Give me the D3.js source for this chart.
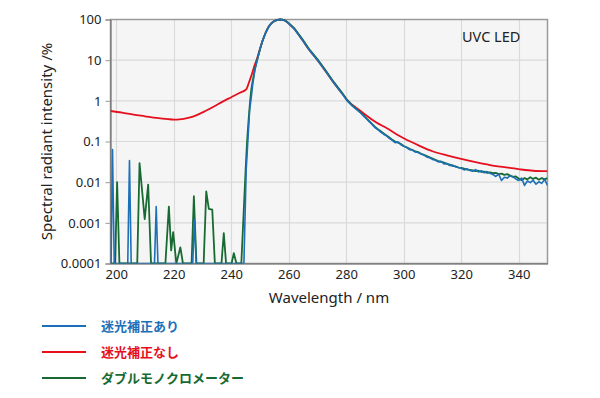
<!DOCTYPE html>
<html lang="ja">
<head>
  <meta charset="UTF-8"/>
  <title>UVC LED spectrum</title>
  <script src="https://d3js.org/d3.v7.min.js"></script>
  <style>
    body { margin: 0; background: #fff; font-family: "Noto Sans", "Open Sans", sans-serif; }
    .tick text { font-size: 13px; fill: #222; }
    .legend text { font-family: "Noto Sans CJK JP", sans-serif; font-size: 13px; font-weight: bold; }
  </style>
</head>
<body>
<svg id="chart" width="600" height="398"></svg>
<script>
// wavelength ticks and decade ticks
const xTicks = [200, 220, 240, 260, 280, 300, 320, 340];
const yTicks = [0.0001, 0.001, 0.01, 0.1, 1, 10, 100];
const yTickLabels = ['0.0001', '0.001', '0.01', '0.1', '1', '10', '100'];

// 迷光補正なし (red) [nm, %]
const redCurve = [
  [198, 0.562], [202, 0.513], [206, 0.457], [210, 0.417], [214, 0.380], [218, 0.355],
  [220, 0.347], [222, 0.351], [225, 0.380], [228, 0.447], [231, 0.562], [234, 0.724],
  [237, 0.955], [240, 1.23], [243, 1.585], [245.3, 1.95], [246, 2.63], [247, 4.17],
  [248, 7.08], [249, 11.2], [250, 19.1], [251, 31.6], [252, 47.9], [253, 66.1],
  [254, 81.3], [255, 91.2], [256, 97.7], [257, 100], [258, 97.7], [259, 91.2],
  [260, 79.4], [262, 57.5], [264.6, 32.4], [267, 18.2], [270, 10.0], [272.8, 5.37],
  [275.7, 2.75], [278.6, 1.51], [280.3, 1.05], [284.4, 0.603], [290.2, 0.302],
  [294, 0.214], [300, 0.120], [305, 0.0813], [310, 0.0575], [315, 0.0457],
  [320, 0.0372], [325, 0.0309], [330, 0.0263], [335, 0.0234], [340, 0.0209],
  [345, 0.0191], [350, 0.0186]
];

// 迷光補正あり (blue): stray-light region + peak, then 285..350 nm every 1 nm
const blueHead = [
  [198.2, 0.0001], [198.7, 0.063], [199.3, 0.0001], [204.0, 0.0001], [204.6, 0.034],
  [205.2, 0.0001], [213.3, 0.0001], [213.9, 0.0025], [214.5, 0.0001], [226.6, 0.0001],
  [227.2, 0.0012], [227.8, 0.0001], [244.4, 0.0001], [245.2, 0.0204], [245.6, 0.0631],
  [246.0, 0.195], [246.4, 0.603], [246.9, 1.12], [247.5, 2.63], [248.2, 5.62],
  [249, 10.0], [250, 18.6], [251, 31.6], [252, 47.9], [253, 66.1], [254, 81.3],
  [255, 91.2], [256, 97.7], [257, 100], [258, 97.7], [259, 91.2], [260, 79.4],
  [262, 57.5], [264.6, 32.4], [267, 18.2], [270, 10.0], [272.8, 5.37], [275.7, 2.75],
  [278.6, 1.48], [280.3, 1.0], [282, 0.76], [284.4, 0.55]
];
const blueTail = [
  0.501, 0.427, 0.363, 0.309, 0.263, 0.219, 0.195, 0.170, 0.151, 0.138,
  0.120, 0.107, 0.0933, 0.0977, 0.0832, 0.0759, 0.0708, 0.0631, 0.0617, 0.0550,
  0.0537, 0.0490, 0.0468, 0.0417, 0.0398, 0.0363, 0.0347, 0.0316, 0.0324, 0.0282,
  0.0288, 0.0257, 0.0263, 0.0240, 0.0229, 0.0219, 0.0200, 0.0214, 0.0195, 0.0186,
  0.0204, 0.0178, 0.0191, 0.0170, 0.0182, 0.0166, 0.0155, 0.0138, 0.0158, 0.0110,
  0.0132, 0.0126, 0.0145, 0.0135, 0.0120, 0.0110, 0.0126, 0.00832, 0.0107, 0.00977,
  0.0112, 0.00891, 0.0102, 0.00933, 0.0117, 0.00832
];

// ダブルモノクロメーター (green)
const greenHead = [
  [198.2, 0.0001], [199.6, 0.0001], [200.3, 0.01], [201.1, 0.0001], [207.3, 0.0001],
  [208.1, 0.0295], [209.9, 0.00123], [211.1, 0.0087], [212.1, 0.0001], [217.1, 0.0001],
  [218.3, 0.0025], [219.1, 0.00021], [219.8, 0.00059], [220.9, 0.0001], [222.3, 0.00025],
  [223.2, 0.0001], [226.2, 0.0001], [227.0, 0.0045], [227.9, 0.0001], [230.4, 0.0001],
  [231.3, 0.0059], [232.2, 0.0022], [233.4, 0.0021], [234.3, 0.0001], [236.6, 0.0001],
  [237.4, 0.00056], [238.2, 0.0001], [240.1, 0.0001], [240.9, 0.00018], [241.8, 0.0001],
  [243.5, 0.0001], [245.0, 0.0204], [245.5, 0.1], [246.0, 0.316], [246.5, 0.891],
  [247, 2.0], [247.5, 3.16], [248.2, 6.03], [249, 10.0], [250, 18.6], [251, 31.6],
  [252, 47.9], [253, 66.1], [254, 81.3], [255, 91.2], [256, 97.7], [257, 100],
  [258, 98.5], [259, 92.5], [260, 81.3], [262, 60.3], [264.6, 33.9], [267, 19.1],
  [270, 10.5], [272.8, 5.62], [275.7, 2.88], [278.6, 1.55], [280.3, 1.05], [282, 0.78],
  [284.4, 0.56]
];
const greenTail = [
  0.513, 0.437, 0.372, 0.316, 0.269, 0.229, 0.200, 0.178, 0.158, 0.141,
  0.126, 0.110, 0.100, 0.0933, 0.0871, 0.0776, 0.0724, 0.0661, 0.0617, 0.0575,
  0.0550, 0.0501, 0.0468, 0.0437, 0.0407, 0.0380, 0.0355, 0.0331, 0.0316, 0.0302,
  0.0282, 0.0269, 0.0251, 0.0245, 0.0229, 0.0224, 0.0214, 0.0204, 0.0200, 0.0195,
  0.0186, 0.0191, 0.0178, 0.0182, 0.0170, 0.0174, 0.0166, 0.0170, 0.0158, 0.0162,
  0.0151, 0.0158, 0.0145, 0.0135, 0.0138, 0.0123, 0.0112, 0.0126, 0.0117, 0.0132,
  0.0120, 0.0129, 0.0115, 0.0126, 0.0117, 0.0126
];
const tailNm = d3.range(285, 351);

const legendLabels = ['迷光補正あり', '迷光補正なし', 'ダブルモノクロメーター'];
const colors = ['#1d6fb8', '#e60f1e', '#176a31'];

const blue = blueHead.concat(tailNm.map((w, i) => [w, blueTail[i]]));
const green = greenHead.concat(tailNm.map((w, i) => [w, greenTail[i]]));

const svg = d3.select('#chart');
const plotL = 110.5, plotR = 547.5, plotT = 19.5, plotB = 263.5;

const x = d3.scaleLinear().domain([198, 350]).range([plotL, plotR]);
const y = d3.scaleLog().domain([0.0001, 100]).range([plotB, plotT]);

// plot background
svg.append('rect').attr('x', plotL).attr('y', plotT)
  .attr('width', plotR - plotL).attr('height', plotB - plotT).attr('fill', '#f5f5f5');

// grid
svg.append('g').selectAll('line').data(xTicks).join('line')
  .attr('x1', d => Math.round(x(d)) + 0.5).attr('x2', d => Math.round(x(d)) + 0.5)
  .attr('y1', plotT).attr('y2', plotB).attr('stroke', '#dadada').attr('stroke-width', 1.2);
svg.append('g').selectAll('line').data(yTicks).join('line')
  .attr('x1', plotL).attr('x2', plotR)
  .attr('y1', d => y(d)).attr('y2', d => y(d)).attr('stroke', '#dadada').attr('stroke-width', 1.2);

// frame
svg.append('rect').attr('x', plotL).attr('y', plotT)
  .attr('width', plotR - plotL).attr('height', plotB - plotT)
  .attr('fill', 'none').attr('stroke', '#9a9a9a').attr('stroke-width', 1.5);

// axes
const yAxis = d3.axisLeft(y).tickValues(yTicks)
  .tickFormat((d, i) => yTickLabels[i]).tickSize(5).tickPadding(4);
svg.append('g').attr('transform', `translate(${plotL},0)`).call(yAxis)
  .call(g => g.select('.domain').attr('stroke', '#666'))
  .call(g => g.selectAll('.tick line').attr('stroke', '#999'));

const xAxis = d3.axisBottom(x).tickValues(xTicks).tickSize(0).tickPadding(6);
svg.append('g').attr('transform', `translate(0,${plotB})`).call(xAxis)
  .call(g => g.select('.domain').attr('stroke', '#666'));

svg.selectAll('.tick text').attr('font-family', '"Noto Sans", sans-serif');

// curves
svg.append('clipPath').attr('id', 'clip').append('rect')
  .attr('x', plotL).attr('y', plotT - 2).attr('width', plotR - plotL).attr('height', plotB - plotT + 2);

const line = d3.line()
  .x(d => x(d[0]))
  .y(d => y(Math.max(d[1], 0.0001)));
const smooth = d3.line()
  .x(d => x(d[0]))
  .y(d => y(d[1]))
  .curve(d3.curveMonotoneX);

const plot = svg.append('g').attr('clip-path', 'url(#clip)');
plot.append('path').datum(redCurve).attr('d', smooth)
  .attr('fill', 'none').attr('stroke', colors[1]).attr('stroke-width', 1.8);
plot.append('path').datum(green).attr('d', line)
  .attr('fill', 'none').attr('stroke', colors[2]).attr('stroke-width', 1.8).attr('stroke-linejoin', 'round');
plot.append('path').datum(blue).attr('d', line)
  .attr('fill', 'none').attr('stroke', colors[0]).attr('stroke-width', 1.6).attr('stroke-linejoin', 'round');

// labels
svg.append('text').attr('x', 462).attr('y', 42)
  .attr('font-size', 14.5).attr('fill', '#222').text('UVC LED');

svg.append('text').attr('x', (plotL + plotR) / 2).attr('y', 303)
  .attr('text-anchor', 'middle').attr('font-size', 15).attr('fill', '#222')
  .text('Wavelength / nm');

svg.append('text')
  .attr('transform', `translate(52,${(plotT + plotB) / 2}) rotate(-90)`)
  .attr('text-anchor', 'middle').attr('font-size', 15).attr('fill', '#222')
  .text('Spectral radiant intensity /%');

// legend
const legend = svg.append('g').attr('class', 'legend');
legendLabels.forEach((lab, i) => {
  const ly = 326 + i * 26;
  legend.append('line').attr('x1', 42).attr('x2', 86).attr('y1', ly).attr('y2', ly)
    .attr('stroke', colors[i]).attr('stroke-width', 2);
  legend.append('text').attr('x', 101).attr('y', ly + 5)
    .attr('fill', colors[i]).text(lab);
});
</script>
</body>
</html>
